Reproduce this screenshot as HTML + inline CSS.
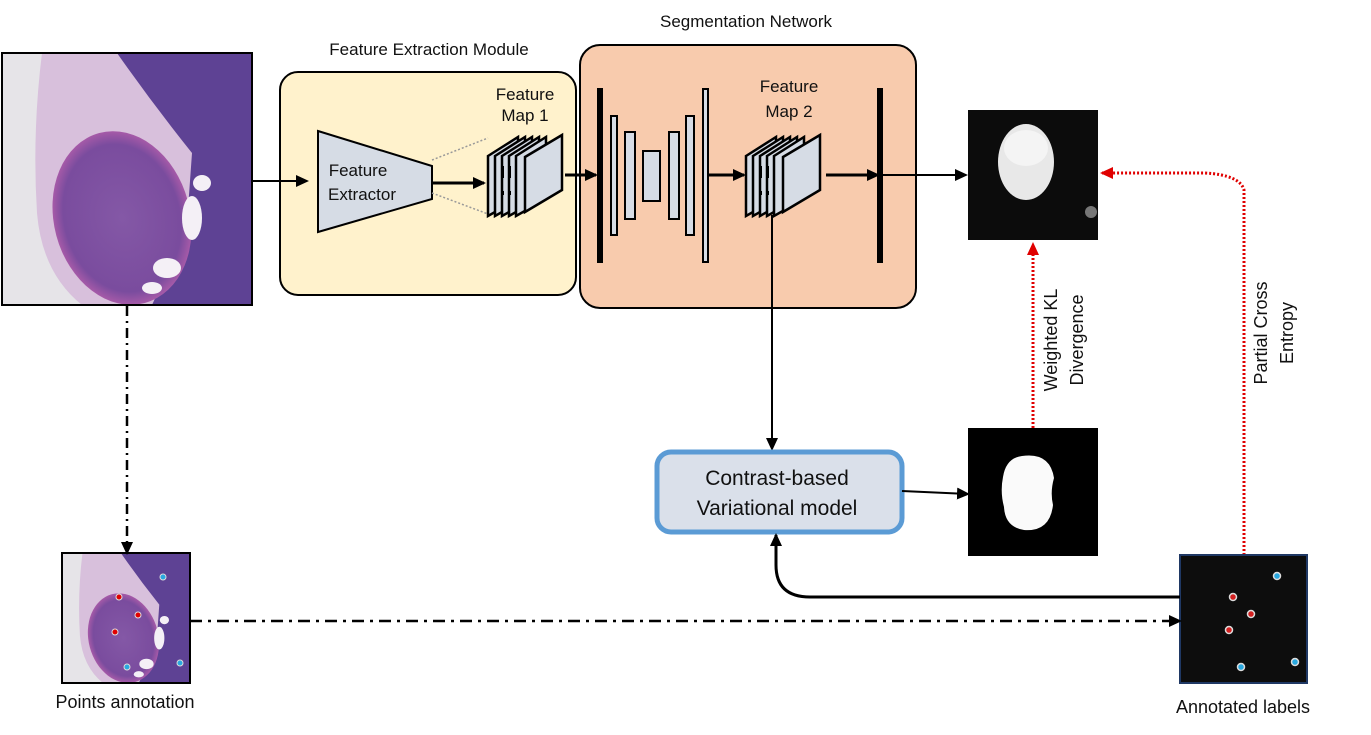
<!DOCTYPE html>
<html><head><meta charset="utf-8"><style>
html,body{margin:0;padding:0;background:#fff;}
svg{display:block;font-family:"Liberation Sans","DejaVu Sans",sans-serif;}
</style></head><body>
<svg width="1371" height="735" viewBox="0 0 1371 735" xmlns="http://www.w3.org/2000/svg">
<defs>
<marker id="ah" markerWidth="14" markerHeight="14" refX="11" refY="7" orient="auto" markerUnits="userSpaceOnUse"><path d="M0,1 L13,7 L0,13 z" fill="#000"/></marker>
<marker id="ahr" markerWidth="14" markerHeight="14" refX="11" refY="7" orient="auto" markerUnits="userSpaceOnUse"><path d="M0,1 L13,7 L0,13 z" fill="#e00000"/></marker>
<radialGradient id="nod" cx="0.5" cy="0.5" r="0.5"><stop offset="0" stop-color="#8458a6"/><stop offset="0.85" stop-color="#7a4c9e"/><stop offset="1" stop-color="#a65aa8"/></radialGradient>
<g id="histo">
<rect x="0" y="0" width="250" height="252" fill="#5e4294"/>
<path d="M0,0 L115,0 Q150,50 190,100 L185,170 Q165,220 150,252 L0,252 z" fill="#d8c0dc"/>
<path d="M0,0 L40,0 Q30,80 35,160 Q40,220 80,252 L0,252 z" fill="#e6e4e8"/>
<ellipse cx="120" cy="165" rx="68" ry="88" transform="rotate(-15 120 165)" fill="url(#nod)"/>
<ellipse cx="190" cy="165" rx="10" ry="22" fill="#f4f0f6"/>
<ellipse cx="200" cy="130" rx="9" ry="8" fill="#f4f0f6"/>
<ellipse cx="165" cy="215" rx="14" ry="10" fill="#f4f0f6"/>
<ellipse cx="150" cy="235" rx="10" ry="6" fill="#f4f0f6"/>
</g>
</defs>

<!-- input image -->
<use href="#histo" x="2" y="53"/>
<rect x="2" y="53" width="250" height="252" fill="none" stroke="#000" stroke-width="2"/>

<!-- Feature extraction module -->
<text x="429" y="55" font-size="17" text-anchor="middle" fill="#111">Feature Extraction Module</text>
<rect x="280" y="72" width="296" height="223" rx="18" fill="#fff2cc" stroke="#000" stroke-width="2"/>
<line x1="252" y1="181" x2="307" y2="181" stroke="#000" stroke-width="2" marker-end="url(#ah)"/>
<polygon points="318,131 432,166 432,199 318,232" fill="#d6dce5" stroke="#000" stroke-width="2"/>
<text x="358" y="176" font-size="17" text-anchor="middle" fill="#111">Feature</text>
<text x="362" y="200" font-size="17" text-anchor="middle" fill="#111">Extractor</text>
<line x1="432" y1="160" x2="488" y2="138" stroke="#999" stroke-width="1.5" stroke-dasharray="2,2"/>
<line x1="432" y1="193" x2="488" y2="214" stroke="#999" stroke-width="1.5" stroke-dasharray="2,2"/>
<line x1="432" y1="183" x2="484" y2="183" stroke="#000" stroke-width="3" marker-end="url(#ah)"/>
<text x="525" y="100" font-size="17" text-anchor="middle" fill="#111">Feature</text>
<text x="525" y="121" font-size="17" text-anchor="middle" fill="#111">Map 1</text>
<g stroke="#000" stroke-width="2.5" fill="#d6dce5">
<polygon points="488,156 518,137 518,199 488,216"/>
<polygon points="495,156 525,137 525,199 495,216"/>
<polygon points="502,156 532,137 532,199 502,216"/>
<polygon points="509,156 539,137 539,199 509,216"/>
<polygon points="516,156 546,137 546,199 516,216"/>
<polygon points="525,157 562,135 562,190 525,212"/>
</g>
<g fill="#000"><rect x="501" y="166" width="3" height="12"/><rect x="508" y="166" width="3" height="12"/><rect x="501" y="191" width="3" height="4"/><rect x="508" y="191" width="3" height="4"/></g>

<!-- segmentation network -->
<text x="746" y="27" font-size="17" text-anchor="middle" fill="#111">Segmentation Network</text>
<rect x="580" y="45" width="336" height="263" rx="20" fill="#f8cbad" stroke="#000" stroke-width="2"/>
<line x1="565" y1="175" x2="596" y2="175" stroke="#000" stroke-width="3" marker-end="url(#ah)"/>
<rect x="597" y="88" width="6" height="175" fill="#000"/>
<g fill="#d6dce5" stroke="#000" stroke-width="2">
<rect x="611" y="116" width="6" height="119"/>
<rect x="625" y="132" width="10" height="87"/>
<rect x="643" y="151" width="17" height="50"/>
<rect x="669" y="132" width="10" height="87"/>
<rect x="686" y="116" width="8" height="119"/>
<rect x="703" y="89" width="5" height="173"/>
</g>
<line x1="709" y1="175" x2="744" y2="175" stroke="#000" stroke-width="3" marker-end="url(#ah)"/>
<text x="789" y="92" font-size="17" text-anchor="middle" fill="#111">Feature</text>
<text x="789" y="117" font-size="17" text-anchor="middle" fill="#111">Map 2</text>
<g stroke="#000" stroke-width="2.5" fill="#d6dce5">
<polygon points="746,156 776,137 776,199 746,216"/>
<polygon points="753,156 783,137 783,199 753,216"/>
<polygon points="760,156 790,137 790,199 760,216"/>
<polygon points="767,156 797,137 797,199 767,216"/>
<polygon points="774,156 804,137 804,199 774,216"/>
<polygon points="783,157 820,135 820,190 783,212"/>
</g>
<g fill="#000"><rect x="759" y="166" width="3" height="12"/><rect x="766" y="166" width="3" height="12"/><rect x="759" y="191" width="3" height="4"/><rect x="766" y="191" width="3" height="4"/></g>
<line x1="826" y1="175" x2="878" y2="175" stroke="#000" stroke-width="3" marker-end="url(#ah)"/>
<rect x="877" y="88" width="6" height="175" fill="#000"/>
<line x1="883" y1="175" x2="966" y2="175" stroke="#000" stroke-width="2" marker-end="url(#ah)"/>

<!-- vertical from feature map 2 -->
<line x1="772" y1="215" x2="772" y2="449" stroke="#000" stroke-width="2" marker-end="url(#ah)"/>

<!-- output image -->
<rect x="968" y="110" width="130" height="130" fill="#0c0c0c"/>
<ellipse cx="1026" cy="162" rx="28" ry="38" fill="#e8e8e8"/>
<ellipse cx="1026" cy="148" rx="22" ry="18" fill="#f4f4f4"/>
<circle cx="1091" cy="212" r="6" fill="#777"/>

<!-- contrast box -->
<rect x="657" y="452" width="245" height="80" rx="14" fill="#dae0ea" stroke="#5b9bd5" stroke-width="5"/>
<text x="777" y="485" font-size="21" text-anchor="middle" fill="#111">Contrast-based</text>
<text x="777" y="515" font-size="21" text-anchor="middle" fill="#111">Variational model</text>
<line x1="902" y1="491" x2="968" y2="494" stroke="#000" stroke-width="2" marker-end="url(#ah)"/>

<!-- mask -->
<rect x="968" y="428" width="130" height="128" fill="#000"/>
<path d="M1022,456 Q1050,452 1054,478 Q1050,492 1053,505 Q1050,532 1024,530 Q1005,527 1004,507 Q1000,492 1003,477 Q1006,458 1022,456 z" fill="#fafafa"/>

<!-- red dotted -->
<line x1="1033" y1="428" x2="1033" y2="244" stroke="#e00000" stroke-width="3" stroke-dasharray="2,2" marker-end="url(#ahr)"/>
<path d="M1244,555 L1244,190 Q1240,175 1205,173 L1102,173" fill="none" stroke="#e00000" stroke-width="3" stroke-dasharray="2,2" marker-end="url(#ahr)"/>
<g font-size="18" fill="#111" text-anchor="middle">
<text transform="translate(1057,340) rotate(-90)">Weighted KL</text>
<text transform="translate(1083,340) rotate(-90)">Divergence</text>
<text transform="translate(1267,333) rotate(-90)">Partial Cross</text>
<text transform="translate(1293,333) rotate(-90)">Entropy</text>
</g>

<!-- annotated labels -->
<rect x="1180" y="555" width="127" height="128" fill="#0d0d0d" stroke="#1f3864" stroke-width="2"/>
<g stroke="#ddd" stroke-width="1.5">
<circle cx="1277" cy="576" r="3.5" fill="#29a8e0"/>
<circle cx="1295" cy="662" r="3.5" fill="#29a8e0"/>
<circle cx="1241" cy="667" r="3.5" fill="#29a8e0"/>
<circle cx="1233" cy="597" r="3.5" fill="#d42020"/>
<circle cx="1251" cy="614" r="3.5" fill="#d42020"/>
<circle cx="1229" cy="630" r="3.5" fill="#d42020"/>
</g>
<text x="1243" y="713" font-size="18" text-anchor="middle" fill="#111">Annotated labels</text>

<path d="M1180,597 L810,597 Q776,597 776,565 L776,535" fill="none" stroke="#000" stroke-width="3" marker-end="url(#ah)"/>

<!-- small annotated image -->
<g transform="translate(62,553) scale(0.512,0.516)"><use href="#histo"/></g>
<rect x="62" y="553" width="128" height="130" fill="none" stroke="#000" stroke-width="2"/>
<g stroke="#ddd" stroke-width="1">
<circle cx="163" cy="577" r="3" fill="#29a8e0"/>
<circle cx="180" cy="663" r="3" fill="#29a8e0"/>
<circle cx="127" cy="667" r="3" fill="#29a8e0"/>
<circle cx="119" cy="597" r="3" fill="#e00000"/>
<circle cx="138" cy="615" r="3" fill="#e00000"/>
<circle cx="115" cy="632" r="3" fill="#e00000"/>
</g>
<text x="125" y="708" font-size="18" text-anchor="middle" fill="#111">Points annotation</text>

<!-- dash-dot lines -->
<line x1="127" y1="306" x2="127" y2="553" stroke="#000" stroke-width="2.5" stroke-dasharray="10,5,2,5" marker-end="url(#ah)"/>
<line x1="190" y1="621" x2="1180" y2="621" stroke="#000" stroke-width="2.5" stroke-dasharray="12,6,3,6" marker-end="url(#ah)"/>
</svg>
</body></html>
